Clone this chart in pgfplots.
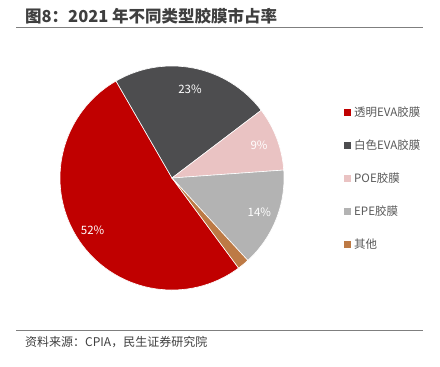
\documentclass[border=0pt]{standalone}
\usepackage{pgfplots}
\pgfplotsset{compat=1.18}
\usepackage{pgfplotstable}
\usetikzlibrary{calc}
\usepackage{fontspec}
\setmainfont{Noto Sans CJK SC}
\definecolor{cRed}{HTML}{C00000}
\definecolor{cDark}{HTML}{4D4D4F}
\definecolor{cPink}{HTML}{EAC3C3}
\definecolor{cGrey}{HTML}{B3B3B3}
\definecolor{cBrown}{HTML}{BD7A45}
\definecolor{cTitle}{HTML}{3F3F3F}
\definecolor{cRule}{HTML}{7F7F7F}
\definecolor{cLeg}{HTML}{595959}
\pgfplotstableread{
idx value
0 51.8
1 23.0
2 9.2
3 14.3
4 1.7
}\piedata
\begin{document}
\begin{tikzpicture}[x=1bp,y=1bp]
\pgfplotstablegetelem{0}{value}\of\piedata \let\vA\pgfplotsretval
\pgfplotstablegetelem{1}{value}\of\piedata \let\vB\pgfplotsretval
\pgfplotstablegetelem{2}{value}\of\piedata \let\vC\pgfplotsretval
\pgfplotstablegetelem{3}{value}\of\piedata \let\vD\pgfplotsretval
\pgfplotstablegetelem{4}{value}\of\piedata \let\vE\pgfplotsretval
\pgfmathsetmacro\tA{120+3.6*\vA}
\pgfmathsetmacro\tB{\tA-3.6*\vA}
\pgfmathsetmacro\tC{\tB-3.6*\vB}
\pgfmathsetmacro\tD{\tC-3.6*\vC}
\pgfmathsetmacro\tE{\tD-3.6*\vD}
\pgfmathsetmacro\tF{\tE-3.6*\vE}
\pgfmathsetmacro\mA{(\tA+\tB)/2}
\pgfmathsetmacro\mB{(\tB+\tC)/2}
\pgfmathsetmacro\mC{(\tC+\tD)/2}
\pgfmathsetmacro\mD{(\tD+\tE)/2}
\path[fill=white] (0,0) rectangle (440,366);
% title
\node[anchor=west, inner sep=0pt, text=cTitle, font=\fontsize{16.5bp}{18bp}\selectfont\bfseries] at (25,350) {图8：2021 年不同类型胶膜市占率};
\draw[cRule, line width=1.6bp] (16,338.5) -- (423,338.5);
% source
\draw[cRule, line width=1.6bp] (16,35.5) -- (423,35.5);
\node[anchor=west, inner sep=0pt, text=cTitle, font=\fontsize{12bp}{14bp}\selectfont] at (25,24) {资料来源：CPIA，民生证券研究院};
% pie
\begin{axis}[at={(172bp,188bp)}, anchor=origin, width=224bp, height=224bp, scale only axis,
  xmin=-1, xmax=1, ymin=-1, ymax=1, hide axis, clip=false]
\fill[cRed, draw=white, line width=0.6bp] (axis cs:0,0) -- ++(\tA:112bp) arc[start angle=\tA, end angle=\tB, radius=112bp] -- cycle;
\fill[cDark, draw=white, line width=0.6bp] (axis cs:0,0) -- ++(\tB:112bp) arc[start angle=\tB, end angle=\tC, radius=112bp] -- cycle;
\fill[cPink, draw=white, line width=0.6bp] (axis cs:0,0) -- ++(\tC:112bp) arc[start angle=\tC, end angle=\tD, radius=112bp] -- cycle;
\fill[cGrey, draw=white, line width=0.6bp] (axis cs:0,0) -- ++(\tD:112bp) arc[start angle=\tD, end angle=\tE, radius=112bp] -- cycle;
\fill[cBrown, draw=white, line width=0.6bp] (axis cs:0,0) -- ++(\tE:112bp) arc[start angle=\tE, end angle=\tF, radius=112bp] -- cycle;
\node[text=white, font=\fontsize{11.5bp}{13bp}\selectfont] at ($(axis cs:0,0)+(\mA:95bp)$) {52\%};
\node[text=white, font=\fontsize{11.5bp}{13bp}\selectfont] at ($(axis cs:0,0)+(\mB:91bp)$) {23\%};
\node[text=white, font=\fontsize{11.5bp}{13bp}\selectfont] at ($(axis cs:0,0)+(\mC:93bp)$) {9\%};
\node[text=white, font=\fontsize{11.5bp}{13bp}\selectfont] at ($(axis cs:0,0)+(\mD:94bp)$) {14\%};
\end{axis}
% legend
\foreach \c/\t/\y in {cRed/透明EVA胶膜/112, cDark/白色EVA胶膜/145, cPink/POE胶膜/178, cGrey/EPE胶膜/211, cBrown/其他/244}{
  \fill[\c] (344,366-\y-3.5) rectangle (351,366-\y+3.5);
  \node[anchor=west, inner sep=0pt, text=cLeg, font=\fontsize{11.5bp}{13bp}\selectfont] at (354,366-\y) {\t};
}
\end{tikzpicture}
\end{document}
